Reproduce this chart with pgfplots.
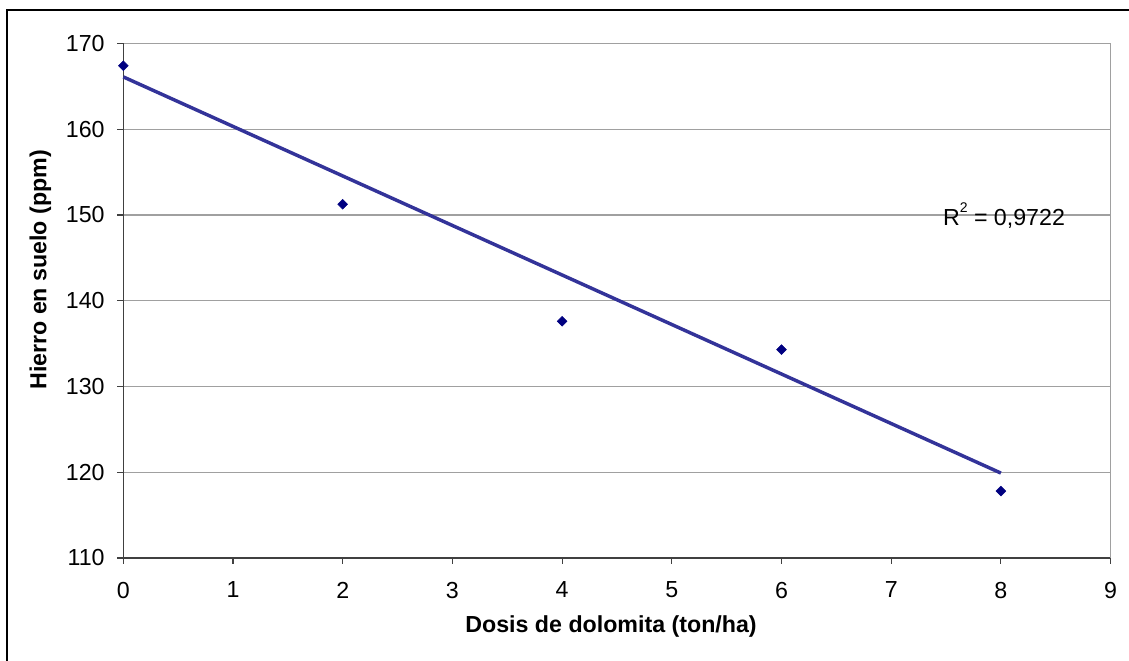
\documentclass[border=0pt]{standalone}
\usepackage{pgfplots}
\pgfplotsset{compat=1.18}
\usepackage{fontspec}
\setmainfont{Liberation Sans}

\definecolor{markblue}{RGB}{0,0,128}
\definecolor{trendblue}{RGB}{51,51,153}
\definecolor{gridgray}{RGB}{160,160,160}
\definecolor{axisgray}{RGB}{64,64,64}

\begin{document}
\begin{tikzpicture}
\begin{axis}[
  scale only axis,
  width=740.5pt, height=385.9pt,
  xmin=0, xmax=9, ymin=110, ymax=170,
  xtick={0,1,...,9},
  ytick={110,120,...,170},
  axis lines*=left,
  axis line style={axisgray, line width=0.9pt},
  ymajorgrids,
  grid style={gridgray, line width=0.8pt},
  tick align=outside,
  major tick length=4.5pt,
  tick style={axisgray, line width=0.8pt},
  /pgf/number format/assume math mode=true,
  /pgf/number format/set thousands separator={},
  tick label style={font=\fontsize{17.4}{20}\selectfont},
  xticklabel style={yshift=-10pt},
  yticklabel style={xshift=-6pt},
  xlabel={Dosis de dolomita (ton/ha)},
  ylabel={Hierro en suelo (ppm)},
  label style={font=\bfseries\fontsize{17.4}{20}\selectfont},
  xlabel style={at={(axis description cs:0.494,-0.134)}, anchor=center},
  ylabel style={at={(axis description cs:-0.084,0.56)}, anchor=center},
  clip=false,
]
% plot-area border on the right
\draw[gridgray, line width=0.8pt] (axis cs:9,110) -- (axis cs:9,170);

% linear trend line
\addplot[trendblue, line width=2.6pt, no markers] coordinates {
  (0,166.1) (8,119.9)
};

% measured iron content
\addplot[only marks, mark=square*, mark size=2.6pt,
  mark options={rotate=45, fill=markblue, draw=markblue}] coordinates {
  (0,167.4) (2,151.25) (4,137.6) (6,134.3) (8,117.8)
};

\node[anchor=base west, font=\fontsize{17.4}{20}\selectfont, inner sep=0pt]
  at (axis cs:7.47,148.75) {R\raisebox{0.55em}{\fontsize{10.5}{12}\selectfont 2} = 0,9722};
\end{axis}
% chart frame
\draw[black, line width=1.5pt] (-87.5pt,-90pt) -- (-87.5pt,411.2pt) -- (770pt,411.2pt);
\pgfresetboundingbox
\useasboundingbox (-92.5pt,-77.25pt) rectangle (754.3pt,418.5pt);
\end{tikzpicture}
\end{document}
